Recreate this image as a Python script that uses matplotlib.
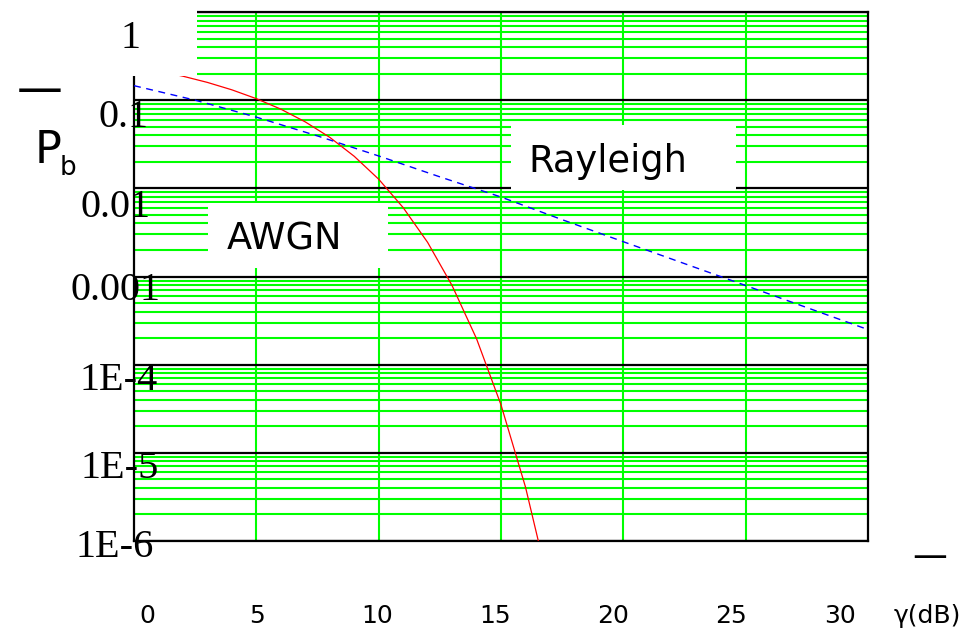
import matplotlib
matplotlib.use("Agg")
import matplotlib.pyplot as plt
from matplotlib.patches import Rectangle
from matplotlib.ticker import FixedLocator, NullFormatter

# ---- data ----
awgn_db = [0, 1, 2, 3, 4, 5, 6, 7, 8, 9, 10, 11, 12, 13, 14, 15, 16, 17]
awgn_pb = [0.240, 0.214, 0.187, 0.159, 0.131, 0.104, 0.0791, 0.0567, 0.0379,
           0.0231, 0.0127, 0.00605, 0.00244, 7.9e-4, 1.97e-4, 3.5e-5, 4.1e-6, 2.8e-7]

ray_db = [0, 2.5, 5, 7.5, 10, 12.5, 15, 17.5, 20, 22.5, 25, 27.5, 30]
ray_pb = [0.146, 0.100, 0.0642, 0.0393, 0.0233, 0.0135, 0.00797, 0.00441,
          0.00248, 0.00140, 7.9e-4, 4.44e-4, 2.5e-4]

ytick_vals = [1, 0.1, 0.01, 0.001, 1e-4, 1e-5, 1e-6]
ytick_labels = ["1", "0.1", "0.01", "0.001", "1E-4", "1E-5", "1E-6"]
xtick_labels = ["0", "5", "10", "15", "20", "25", "30"]
xgrid_vals = [5, 10, 15, 20, 25]

W, H = 976, 630
GREEN = "#00ff00"

fig = plt.figure(figsize=(W / 100, H / 100), dpi=100)
fig.patch.set_facecolor("white")


def fx(px):
    return px / W


def fy(py):
    return 1 - py / H


ax = fig.add_axes([fx(134), fy(541), (868 - 134) / W, (541 - 12) / H])
ax.set_xlim(0, 30)
ax.set_yscale("log")
ax.set_ylim(1e-6, 1)

# grid
ax.xaxis.set_major_locator(FixedLocator(xgrid_vals))
ax.yaxis.set_major_locator(FixedLocator(ytick_vals))
minors = [m * 10.0 ** e for e in range(-6, 0) for m in range(2, 10)]
ax.yaxis.set_minor_locator(FixedLocator(minors))
ax.xaxis.set_minor_locator(FixedLocator([]))
ax.yaxis.set_major_formatter(NullFormatter())
ax.yaxis.set_minor_formatter(NullFormatter())
ax.xaxis.set_major_formatter(NullFormatter())
ax.tick_params(which="both", length=0)
ax.set_axisbelow(True)
ax.xaxis.grid(True, which="major", color=GREEN, lw=1.5)
ax.yaxis.grid(True, which="minor", color=GREEN, lw=1.5)
ax.yaxis.grid(True, which="major", color="black", lw=1.6)
for s in ax.spines.values():
    s.set_linewidth(1.6)
    s.set_color("black")

# curves
ax.plot(awgn_db, awgn_pb, color="#ff0000", lw=0.9, zorder=3)
ax.plot(ray_db, ray_pb, color="#0000ff", lw=1.0, dashes=(5, 4), zorder=3)

# white label boxes (in figure pixel coordinates)
def white_box(x0, y0, x1, y1):
    r = Rectangle((fx(x0), fy(y1)), (x1 - x0) / W, (y1 - y0) / H,
                  transform=fig.transFigure, facecolor="white",
                  edgecolor="none", zorder=10, clip_on=False)
    ax.add_patch(r)

white_box(130, 8, 197, 75.5)
white_box(208, 203, 388, 268)
white_box(511, 125, 736, 190)

serif = ["Liberation Serif", "DejaVu Serif"]
sans = ["DejaVu Sans"]

# y tick labels: (right x, baseline y) in pixels
ylab_pos = [(140, 48), (149, 127), (151, 217), (161, 300),
            (158, 390), (159, 478), (154, 557)]
for lab, (px, py) in zip(ytick_labels, ylab_pos):
    ax.text(fx(px), fy(py), lab, transform=fig.transFigure, ha="right",
            va="baseline", fontsize=29, family=serif, zorder=12,
            clip_on=False)

# x tick labels
xlab_x = [147, 257, 377, 495, 613, 731, 840]
for lab, px in zip(xtick_labels, xlab_x):
    fig.text(fx(px), fy(623), lab, ha="center", va="baseline",
             fontsize=18, family=sans)

# axis titles
fig.text(fx(927), fy(623), "γ(dB)", ha="center", va="baseline",
         fontsize=18, family=sans)
fig.text(fx(930), fy(557), "—", ha="center", va="center",
         fontsize=25, family=sans)
fig.text(fx(40), fy(91), "—", ha="center", va="center",
         fontsize=33, family=sans)
fig.text(fx(35), fy(163), "P", ha="left", va="baseline",
         fontsize=32, family=sans)
fig.text(fx(60), fy(175), "b", ha="left", va="baseline",
         fontsize=19, family=sans)

# curve labels
ax.text(fx(227), fy(250), "AWGN", transform=fig.transFigure, ha="left",
        va="baseline", fontsize=26.5, family=sans, zorder=12, clip_on=False)
ax.text(fx(528.5), fy(172), "Rayleigh", transform=fig.transFigure, ha="left",
        va="baseline", fontsize=26.5, family=sans, zorder=12, clip_on=False)

fig.savefig("out.png", dpi=100, facecolor="white")
